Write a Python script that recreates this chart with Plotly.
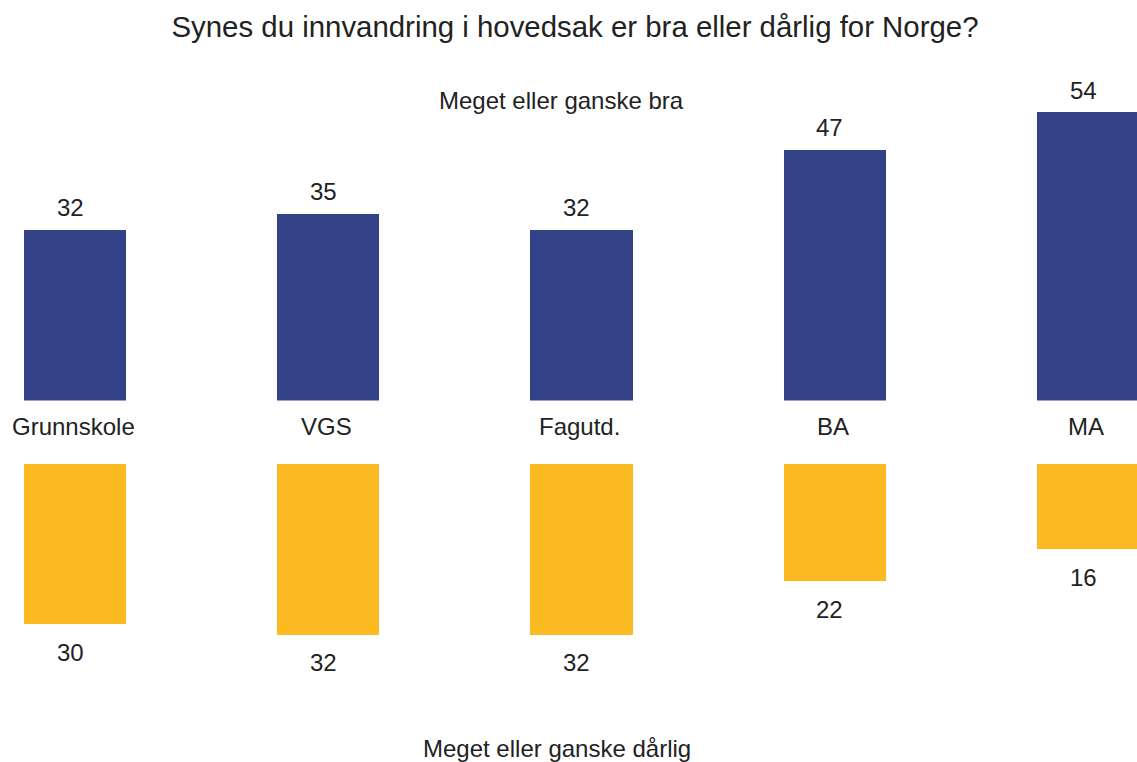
import plotly.graph_objects as go

categories = ["Grunnskole", "VGS", "Fagutd.", "BA", "MA"]
good_values = [32, 35, 32, 47, 54]
bad_values = [30, 32, 32, 22, 16]

title_text = "Synes du innvandring i hovedsak er bra eller dårlig for Norge?"
top_label = "Meget eller ganske bra"
bottom_label = "Meget eller ganske dårlig"

BLUE = "#334287"
YELLOW = "#FBBA21"
TEXT = "#222222"
FONT = "Liberation Sans, Arial, sans-serif"

W, H = 1137, 762

fig = go.Figure()
fig.add_trace(go.Bar(x=categories, y=good_values, marker=dict(color=BLUE, line=dict(width=0)),
                     width=0.403, xaxis="x", yaxis="y", hoverinfo="x+y"))
fig.add_trace(go.Bar(x=categories, y=bad_values, marker=dict(color=YELLOW, line=dict(width=0)),
                     width=0.403, xaxis="x2", yaxis="y2", hoverinfo="x+y"))

annotations = []
for c, v in zip(categories, good_values):
    annotations.append(dict(x=c, y=v, xref="x", yref="y", text=str(v), showarrow=False,
                            yanchor="middle", yshift=22, xshift=-5,
                            font=dict(size=24, color=TEXT, family=FONT)))
for c, v in zip(categories, bad_values):
    annotations.append(dict(x=c, y=v, xref="x2", yref="y2", text=str(v), showarrow=False,
                            yanchor="middle", yshift=-28, xshift=-5,
                            font=dict(size=24, color=TEXT, family=FONT)))
for c in categories:
    annotations.append(dict(x=c, y=(H - 426) / H, xref="x", yref="paper", text=c, showarrow=False,
                            yanchor="middle", xshift=-2,
                            font=dict(size=24, color=TEXT, family=FONT)))
annotations.append(dict(x=561 / W, y=(H - 100) / H, xref="paper", yref="paper", text=top_label,
                        showarrow=False, xanchor="center", yanchor="middle",
                        font=dict(size=24, color=TEXT, family=FONT)))
annotations.append(dict(x=557 / W, y=(H - 748) / H, xref="paper", yref="paper", text=bottom_label,
                        showarrow=False, xanchor="center", yanchor="middle",
                        font=dict(size=24, color=TEXT, family=FONT)))

xr = [-0.2962, 4.1935]
scale = 5.335
top_base, top_px = 400.5, 60
bot_base, bot_px = 464, 720

fig.update_layout(
    width=W, height=H,
    margin=dict(l=0, r=0, t=0, b=0),
    paper_bgcolor="white", plot_bgcolor="white",
    showlegend=False,
    title=dict(text=title_text, x=575 / W, xanchor="center", y=1 - 27 / H, yanchor="middle",
               yref="container", font=dict(size=29.4, color=TEXT, family=FONT)),
    xaxis=dict(range=xr, visible=False, domain=[0, 1], anchor="y"),
    xaxis2=dict(range=xr, visible=False, domain=[0, 1], anchor="y2"),
    yaxis=dict(range=[0, (top_base - top_px) / scale], visible=False,
               domain=[(H - top_base) / H, (H - top_px) / H]),
    yaxis2=dict(range=[(bot_px - bot_base) / scale, 0], visible=False,
                domain=[(H - bot_px) / H, (H - bot_base) / H]),
    annotations=annotations,
    bargap=0,
)

fig.write_html("out.html", config={"displayModeBar": False},
               post_script="document.body.style.margin='0';document.body.style.overflow='hidden';")
